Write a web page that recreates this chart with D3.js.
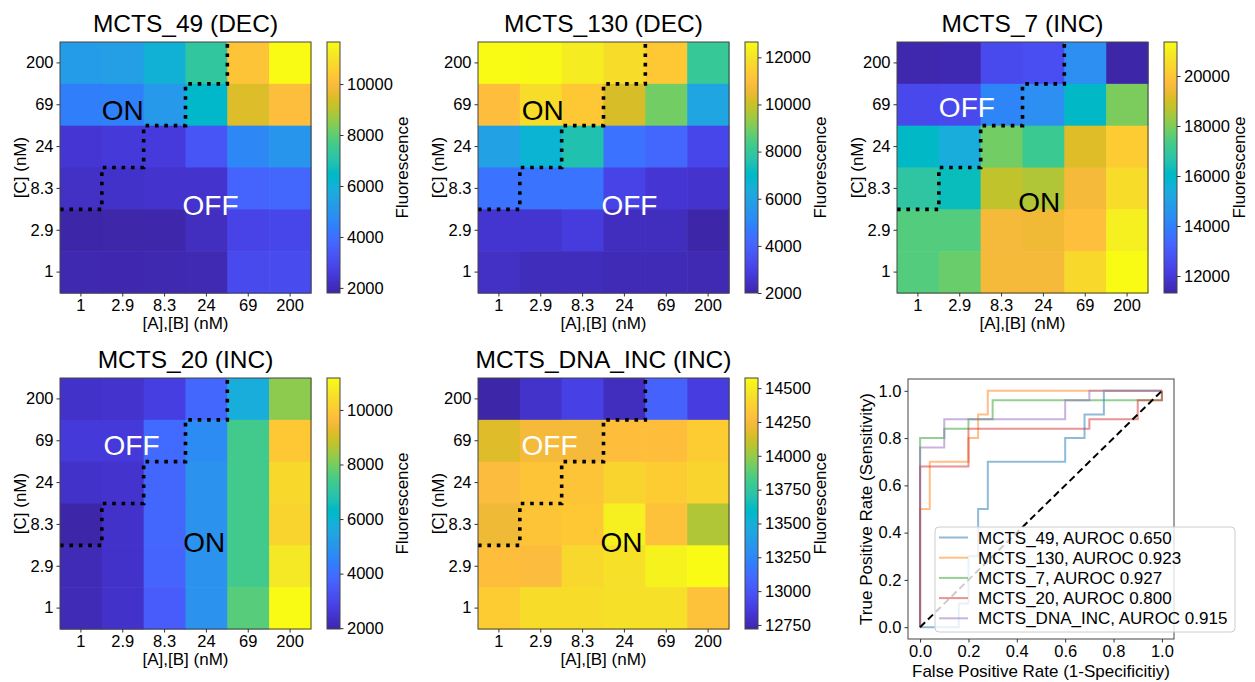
<!DOCTYPE html>
<html><head><meta charset="utf-8">
<script src="https://cdn.jsdelivr.net/npm/d3@7"></script>
<style>
body{margin:0;background:#fff}
text{font-family:"Liberation Sans",Arial,sans-serif;}
</style>
</head><body>
<svg id="chart" width="1255" height="682"></svg>
<script>
// ---------------- DATA ----------------
const rowLabels = ["200","69","24","8.3","2.9","1"];     // [C] (nM), top -> bottom
const colLabels = ["1","2.9","8.3","24","69","200"];     // [A],[B] (nM)

const mcts49 = [
  [5250, 5350, 6030, 7300, 10270, 11650],
  [4360, 4460, 5150, 6330, 9480, 10070],
  [2390, 2490, 2540, 3280, 4660, 5050],
  [2190, 2240, 2290, 2290, 3670, 3770],
  [1800, 1810, 1830, 2100, 2790, 2880],
  [1900, 1880, 1900, 1950, 2980, 3030]
];
const mcts130 = [
  [12650, 12600, 12220, 11800, 11270, 8070],
  [10950, 11800, 11270, 10200, 8920, 6050],
  [5940, 6690, 7540, 4450, 4130, 3170],
  [4450, 4500, 4500, 3070, 2640, 2530],
  [2590, 2590, 2850, 2320, 2320, 2000],
  [2430, 2270, 2270, 2210, 2210, 2150]
];
const mcts7 = [
  [11400, 11450, 12520, 12630, 14430, 11320],
  [12470, 12520, 14130, 14430, 16040, 17950],
  [16040, 15440, 17850, 17140, 19150, 20160],
  [16840, 16240, 18750, 18550, 19550, 20560],
  [17495, 17495, 19550, 19450, 19800, 21060],
  [17495, 17750, 19550, 19550, 20460, 21360]
];
const mcts20 = [
  [2380, 2430, 2750, 3810, 5740, 8230],
  [2610, 2610, 3900, 4730, 7400, 9970],
  [2380, 2430, 3810, 4910, 7400, 10340],
  [1970, 2380, 3810, 4910, 7400, 10250],
  [2150, 2380, 3720, 4910, 7400, 10710],
  [2150, 2380, 3530, 4910, 7670, 11170]
];
const mctsDnaInc = [
  [12720, 12810, 12890, 12775, 13070, 12870],
  [14170, 14240, 14240, 14280, 14280, 14350],
  [14270, 14315, 14315, 14390, 14350, 14390],
  [14220, 14315, 14335, 14520, 14300, 14055],
  [14280, 14270, 14410, 14445, 14530, 14575],
  [14350, 14425, 14425, 14445, 14445, 14300]
];

const ticks49  = [2000, 4000, 6000, 8000, 10000];
const ticks130 = [2000, 4000, 6000, 8000, 10000, 12000];
const ticks7   = [12000, 14000, 16000, 18000, 20000];
const ticks20  = [2000, 4000, 6000, 8000, 10000];
const ticksDna = [12750, 13000, 13250, 13500, 13750, 14000, 14250, 14500];

// ON/OFF boundary (cell units: columns from left, rows from top)
const stairX = [0, 1, 1, 2, 2, 3, 3, 4, 4];
const stairY = [4, 4, 3, 3, 2, 2, 1, 1, 0];

// ROC curves
const rocNames = ["MCTS_49", "MCTS_130", "MCTS_7", "MCTS_20", "MCTS_DNA_INC"];
const rocAuroc = ["0.650", "0.923", "0.927", "0.800", "0.915"];
const fpr49  = [0, 0.16, 0.16, 0.2, 0.2, 0.24, 0.24, 0.28, 0.28, 0.6, 0.6, 0.68, 0.68, 0.76, 0.76, 1];
const tpr49  = [0, 0, 0.1, 0.1, 0.3, 0.3, 0.5, 0.5, 0.7, 0.7, 0.8, 0.8, 0.9, 0.9, 1, 1];
const fpr130 = [0, 0, 0.04, 0.04, 0.2, 0.2, 0.24, 0.24, 0.28, 0.28, 1];
const tpr130 = [0, 0.5, 0.5, 0.7, 0.7, 0.8, 0.8, 0.9, 0.9, 1, 1];
const fpr7   = [0, 0, 0.1, 0.1, 0.2, 0.2, 0.3, 0.3, 1, 1];
const tpr7   = [0, 0.8, 0.8, 0.84, 0.84, 0.88, 0.88, 0.96, 0.96, 1];
const fpr20  = [0, 0, 0.2, 0.2, 0.7, 0.7, 0.9, 0.9, 1, 1];
const tpr20  = [0, 0.68, 0.68, 0.84, 0.84, 0.88, 0.88, 0.96, 0.96, 1];
const fprDna = [0, 0, 0.1, 0.1, 0.6, 0.6, 0.7, 0.7, 1];
const tprDna = [0, 0.76, 0.76, 0.88, 0.88, 0.96, 0.96, 1, 1];

// ---------------- COLORMAP (parula) ----------------
const PARULA = [
[0.2422,0.1504,0.6603],[0.2504,0.1650,0.7076],[0.2578,0.1818,0.7511],[0.2647,0.1978,0.7952],
[0.2706,0.2147,0.8364],[0.2751,0.2342,0.8710],[0.2783,0.2559,0.8991],[0.2803,0.2782,0.9221],
[0.2813,0.3006,0.9414],[0.2810,0.3228,0.9579],[0.2795,0.3447,0.9717],[0.2760,0.3667,0.9829],
[0.2699,0.3892,0.9906],[0.2602,0.4123,0.9952],[0.2440,0.4358,0.9988],[0.2206,0.4603,0.9973],
[0.1963,0.4847,0.9892],[0.1834,0.5074,0.9798],[0.1786,0.5289,0.9682],[0.1764,0.5499,0.9520],
[0.1687,0.5703,0.9359],[0.1540,0.5902,0.9218],[0.1460,0.6091,0.9079],[0.1380,0.6276,0.8973],
[0.1248,0.6459,0.8883],[0.1113,0.6635,0.8763],[0.0952,0.6798,0.8598],[0.0689,0.6948,0.8394],
[0.0297,0.7082,0.8163],[0.0036,0.7203,0.7917],[0.0067,0.7312,0.7660],[0.0433,0.7411,0.7394],
[0.0964,0.7500,0.7120],[0.1408,0.7584,0.6842],[0.1717,0.7670,0.6554],[0.1938,0.7758,0.6251],
[0.2161,0.7843,0.5923],[0.2470,0.7918,0.5567],[0.2906,0.7973,0.5188],[0.3406,0.8008,0.4789],
[0.3909,0.8029,0.4354],[0.4456,0.8024,0.3909],[0.5044,0.7993,0.3480],[0.5616,0.7942,0.3045],
[0.6174,0.7876,0.2612],[0.6720,0.7793,0.2227],[0.7242,0.7698,0.1910],[0.7738,0.7598,0.1646],
[0.8203,0.7498,0.1535],[0.8634,0.7406,0.1596],[0.9035,0.7330,0.1774],[0.9393,0.7288,0.2100],
[0.9728,0.7298,0.2394],[0.9956,0.7434,0.2371],[0.9970,0.7659,0.2199],[0.9952,0.7893,0.2028],
[0.9892,0.8136,0.1885],[0.9786,0.8386,0.1766],[0.9676,0.8639,0.1643],[0.9610,0.8890,0.1537],
[0.9597,0.9135,0.1423],[0.9628,0.9373,0.1265],[0.9691,0.9606,0.1064],[0.9769,0.9839,0.0805]
];
function parula(t) {
  t = Math.max(0, Math.min(1, t));
  const p = t * (PARULA.length - 1);
  const i = Math.min(PARULA.length - 2, Math.floor(p));
  const f = p - i, a = PARULA[i], b = PARULA[i + 1];
  return d3.rgb(255*(a[0]+(b[0]-a[0])*f), 255*(a[1]+(b[1]-a[1])*f), 255*(a[2]+(b[2]-a[2])*f)).formatHex();
}

// ---------------- LAYOUT ----------------
const svg = d3.select("#chart");
svg.append("rect").attr("width",1255).attr("height",682).attr("fill","#fff");
const defs = svg.append("defs");

const panels = [
  {title:"MCTS_49 (DEC)",      data:mcts49,     ticks:ticks49,  left:60,  top:42,  on:[1.5,1.63,"#000"], off:[3.6,3.9,"#fff"]},
  {title:"MCTS_130 (DEC)",     data:mcts130,    ticks:ticks130, left:478, top:42,  on:[1.55,1.63,"#000"], off:[3.62,3.9,"#fff"]},
  {title:"MCTS_7 (INC)",       data:mcts7,      ticks:ticks7,   left:897, top:42,  on:[3.4,3.83,"#000"], off:[1.67,1.55,"#fff"]},
  {title:"MCTS_20 (INC)",      data:mcts20,     ticks:ticks20,  left:60,  top:378, on:[3.45,3.92,"#000"], off:[1.71,1.6,"#fff"]},
  {title:"MCTS_DNA_INC (INC)", data:mctsDnaInc, ticks:ticksDna, left:478, top:378, on:[3.43,3.92,"#000"], off:[1.71,1.6,"#fff"]}
];
const W = 251, H = 251;
const TICK_FS = 16.5, LABEL_FS = 17;

function styleAxis(g, size) {
  g.attr("font-family", null).attr("font-size", null);
  g.selectAll("text").attr("font-size", size).attr("fill", "#000");
  g.selectAll("line").attr("stroke", "#333");
  g.select(".domain").remove();
}

panels.forEach((p, pi) => {
  const g = svg.append("g");
  const x = d3.scaleBand(colLabels, [p.left, p.left + W]);
  const y = d3.scaleBand(rowLabels, [p.top, p.top + H]);
  const ext = d3.extent(p.data.flat());
  const color = v => parula((v - ext[0]) / (ext[1] - ext[0]));

  p.data.forEach((row, r) => row.forEach((v, c) => {
    g.append("rect")
      .attr("x", x(colLabels[c])).attr("y", y(rowLabels[r]))
      .attr("width", x.bandwidth() + 0.6).attr("height", y.bandwidth() + 0.6)
      .attr("fill", color(v));
  }));

  const cx = d3.scaleLinear([0, 6], [p.left, p.left + W]);
  const cy = d3.scaleLinear([0, 6], [p.top, p.top + H]);
  [["ON", p.on], ["OFF", p.off]].forEach(([t, pos]) => {
    g.append("text").attr("x", cx(pos[0])).attr("y", cy(pos[1]))
      .attr("dy", "0.36em").attr("text-anchor", "middle")
      .attr("font-size", 28).attr("fill", pos[2]).text(t);
  });

  const line = d3.line().x(d => cx(d[0])).y(d => cy(d[1]));
  g.append("path").attr("d", line(stairX.map((v, i) => [v, stairY[i]])))
    .attr("fill", "none").attr("stroke", "#000").attr("stroke-width", 3.6)
    .attr("stroke-dasharray", "3.6,5.8");

  g.append("rect").attr("x", p.left).attr("y", p.top).attr("width", W).attr("height", H)
    .attr("fill", "none").attr("stroke", "#444").attr("stroke-width", 1);

  const ax = g.append("g").attr("transform", `translate(0,${p.top + H})`)
    .call(d3.axisBottom(x).tickSize(3.5).tickPadding(3));
  styleAxis(ax, TICK_FS);
  const ay = g.append("g").attr("transform", `translate(${p.left},0)`)
    .call(d3.axisLeft(y).tickSize(3.5).tickPadding(3));
  styleAxis(ay, TICK_FS);

  g.append("text").attr("x", p.left + W / 2).attr("y", p.top - 10)
    .attr("text-anchor", "middle").attr("font-size", 24.5).text(p.title);
  g.append("text").attr("x", p.left + W / 2).attr("y", p.top + H + 36)
    .attr("text-anchor", "middle").attr("font-size", LABEL_FS).text("[A],[B] (nM)");
  g.append("text").attr("transform", `translate(${p.left - 34},${p.top + H / 2}) rotate(-90)`)
    .attr("text-anchor", "middle").attr("font-size", LABEL_FS).text("[C] (nM)");

  const cbx = p.left + W + 16, cbw = 13;
  const gid = "grad" + pi;
  const grad = defs.append("linearGradient").attr("id", gid)
    .attr("x1", 0).attr("y1", 1).attr("x2", 0).attr("y2", 0);
  PARULA.forEach((c, i) => grad.append("stop")
    .attr("offset", i / (PARULA.length - 1))
    .attr("stop-color", parula(i / (PARULA.length - 1))));
  g.append("rect").attr("x", cbx).attr("y", p.top).attr("width", cbw).attr("height", H)
    .attr("fill", `url(#${gid})`).attr("stroke", "#444").attr("stroke-width", 1);
  const cs = d3.scaleLinear(ext, [p.top + H, p.top]);
  const ac = g.append("g").attr("transform", `translate(${cbx + cbw},0)`)
    .call(d3.axisRight(cs).tickValues(p.ticks).tickFormat(d3.format("d")).tickSize(3.5).tickPadding(3.5));
  styleAxis(ac, TICK_FS);
  g.append("text").attr("transform", `translate(${cbx + cbw + 68},${p.top + H / 2}) rotate(-90)`)
    .attr("text-anchor", "middle").attr("font-size", LABEL_FS).text("Fluorescence");
});

// ---------------- ROC ----------------
const roc = svg.append("g");
const rx = d3.scaleLinear([-0.05, 1.05], [908, 1174]);
const ry = d3.scaleLinear([-0.05, 1.05], [639, 379]);
const rocColors = ["#1f77b4", "#ff7f0e", "#2ca02c", "#d62728", "#9467bd"];
const rocF = [fpr49, fpr130, fpr7, fpr20, fprDna];
const rocT = [tpr49, tpr130, tpr7, tpr20, tprDna];
const rline = d3.line().x(d => rx(d[0])).y(d => ry(d[1]));

roc.append("defs").append("clipPath").attr("id", "rocclip")
  .append("rect").attr("x", 908).attr("y", 379).attr("width", 266).attr("height", 260);
const plot = roc.append("g").attr("clip-path", "url(#rocclip)");
rocF.forEach((f, i) => {
  plot.append("path").attr("d", rline(f.map((v, j) => [v, rocT[i][j]])))
    .attr("fill", "none").attr("stroke", rocColors[i]).attr("stroke-opacity", 0.5)
    .attr("stroke-width", 2);
});
plot.append("path").attr("d", rline([[0, 0], [1, 1]]))
  .attr("fill", "none").attr("stroke", "#000").attr("stroke-width", 2)
  .attr("stroke-dasharray", "7,4");

roc.append("rect").attr("x", 908).attr("y", 379).attr("width", 266).attr("height", 260)
  .attr("fill", "none").attr("stroke", "#444").attr("stroke-width", 1);

const rt = [0, 0.2, 0.4, 0.6, 0.8, 1.0];
const rax = roc.append("g").attr("transform", "translate(0,639)")
  .call(d3.axisBottom(rx).tickValues(rt).tickFormat(d3.format(".1f")).tickSize(3.5).tickPadding(3));
styleAxis(rax, TICK_FS);
const ray = roc.append("g").attr("transform", "translate(908,0)")
  .call(d3.axisLeft(ry).tickValues(rt).tickFormat(d3.format(".1f")).tickSize(3.5).tickPadding(3));
styleAxis(ray, TICK_FS);

roc.append("text").attr("x", 1041).attr("y", 677).attr("text-anchor", "middle")
  .attr("font-size", LABEL_FS).text("False Positive Rate (1-Specificitiy)");
roc.append("text").attr("transform", "translate(872,509) rotate(-90)")
  .attr("text-anchor", "middle").attr("font-size", LABEL_FS).text("True Positive Rate (Sensitivity)");

const lg = roc.append("g");
lg.append("rect").attr("x", 935).attr("y", 527).attr("width", 300).attr("height", 105)
  .attr("rx", 4).attr("fill", "#fff").attr("fill-opacity", 0.8)
  .attr("stroke", "#ccc").attr("stroke-width", 1);
rocNames.forEach((n, i) => {
  const yy = 537.5 + i * 20.2;
  lg.append("line").attr("x1", 939).attr("x2", 968).attr("y1", yy).attr("y2", yy)
    .attr("stroke", rocColors[i]).attr("stroke-opacity", 0.5).attr("stroke-width", 2);
  lg.append("text").attr("x", 978).attr("y", yy).attr("dy", "0.36em")
    .attr("font-size", 17).text(`${n}, AUROC ${rocAuroc[i]}`);
});
</script>
</body></html>
